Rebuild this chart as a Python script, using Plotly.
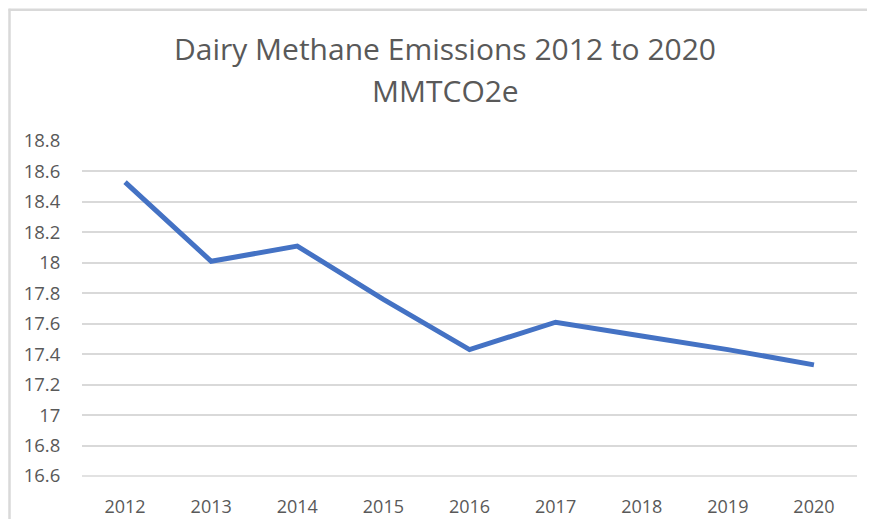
import plotly.graph_objects as go

years = ["2012", "2013", "2014", "2015", "2016", "2017", "2018", "2019", "2020"]
emissions = [18.53, 18.01, 18.11, 17.76, 17.43, 17.61, 17.52, 17.43, 17.33]
y_ticks = [16.6, 16.8, 17.0, 17.2, 17.4, 17.6, 17.8, 18.0, 18.2, 18.4, 18.6, 18.8]
y_tick_labels = ["16.6", "16.8", "17", "17.2", "17.4", "17.6", "17.8", "18", "18.2", "18.4", "18.6", "18.8"]
title_lines = ["Dairy Methane Emissions 2012 to 2020", "MMTCO2e"]

# page body has an 8px default margin on every side; lay out in page pixel
# coordinates and keep the figure inside the window so no scrollbar appears
OFF = 8
W, H = 875 - 2 * OFF, 527 - 2 * OFF
plot_left, plot_right, plot_top, plot_bottom = 82, 857, 141, 476.5
L = plot_left - OFF
R = W - (plot_right - OFF)
T = plot_top - OFF
B = H - (plot_bottom - OFF)
pw, ph = W - L - R, H - T - B

def px(x):
    return (x - OFF - L) / pw

def py(y):
    return (H - B - (y - OFF)) / ph

text_color = "#595959"
font_family = "Open Sans, Liberation Sans, sans-serif"
border_color = "#d9d9d9"

fig = go.Figure()
fig.add_trace(go.Scatter(
    x=years, y=emissions, mode="lines",
    line=dict(color="#4472C4", width=5),
    hoverinfo="x+y",
))

fig.update_layout(
    width=W, height=H,
    margin=dict(l=L, r=R, t=T, b=B),
    paper_bgcolor="white", plot_bgcolor="white",
    showlegend=False,
    font=dict(family=font_family, color=text_color, size=18),
    xaxis=dict(
        type="category", range=[-0.5, len(years) - 0.5],
        showgrid=False, zeroline=False, showline=False, automargin=False,
        ticks="outside", ticklen=14, tickcolor="rgba(0,0,0,0)",
        tickfont=dict(size=18, color=text_color),
    ),
    yaxis=dict(
        range=[16.6, 18.8], tickvals=y_ticks, ticktext=y_tick_labels,
        showgrid=True, gridcolor=border_color, gridwidth=1.5,
        zeroline=False, showline=False, automargin=False,
        ticks="outside", ticklen=17, tickcolor="rgba(0,0,0,0)",
        tickfont=dict(size=18.5, color=text_color),
    ),
    shapes=[
        dict(type="line", xref="paper", yref="paper",
             x0=px(9.5), x1=px(9.5), y0=py(527), y1=py(8.5),
             line=dict(color=border_color, width=2.5), layer="below"),
        dict(type="line", xref="paper", yref="paper",
             x0=px(8.5), x1=px(875), y0=py(9.5), y1=py(9.5),
             line=dict(color=border_color, width=2.5), layer="below"),
        dict(type="line", xref="paper", yref="paper",
             x0=0, x1=1, y0=0, y1=0,
             line=dict(color=border_color, width=1.5), layer="below"),
    ],
    annotations=[
        dict(text=title_lines[0], xref="paper", yref="paper",
             x=px(445), y=py(48), showarrow=False,
             xanchor="center", yanchor="middle",
             font=dict(size=30, color=text_color, family=font_family)),
        dict(text=title_lines[1], xref="paper", yref="paper",
             x=px(445), y=py(90), showarrow=False,
             xanchor="center", yanchor="middle",
             font=dict(size=30, color=text_color, family=font_family)),
    ],
)

fig.write_html("out.html")
